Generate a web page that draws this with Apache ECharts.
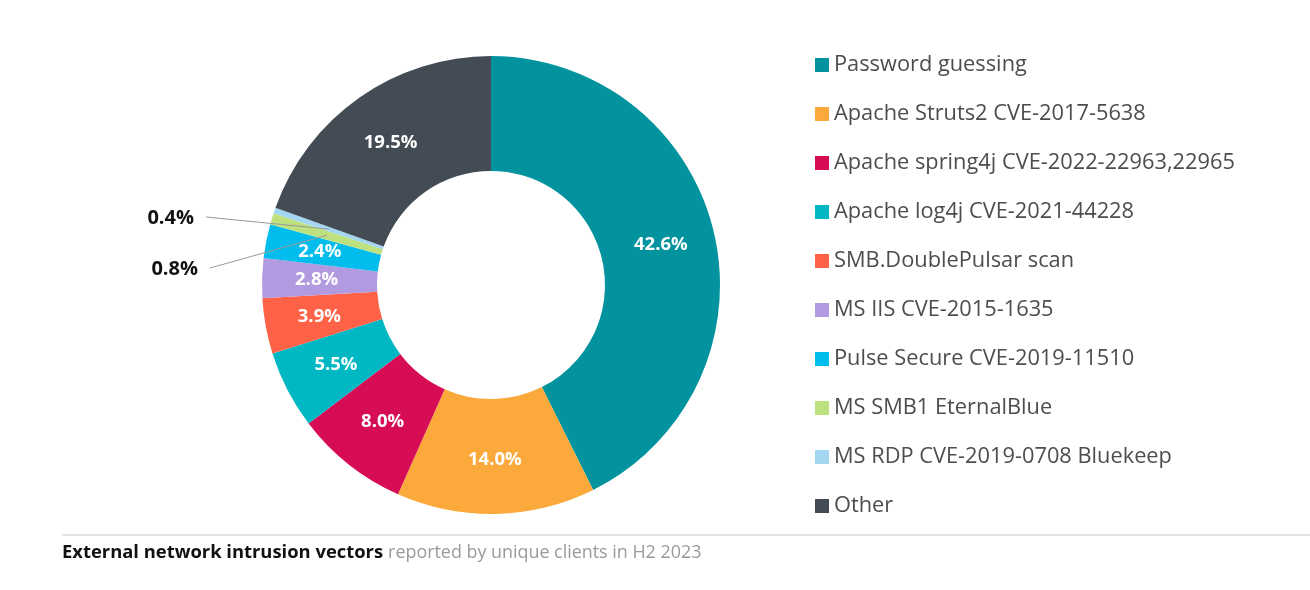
<!DOCTYPE html>
<html>
<head>
<meta charset="utf-8">
<script src="https://cdn.jsdelivr.net/npm/echarts@6/dist/echarts.min.js"></script>
<style>
	html, body { margin: 0; padding: 0; background: #fff; }
	#main { width: 1310px; height: 590px; }
</style>
</head>
<body>
<div id="main"></div>
<script>
var categories = ['Password guessing', 'Apache Struts2 CVE-2017-5638', 'Apache spring4j CVE-2022-22963,22965',
	'Apache log4j CVE-2021-44228', 'SMB.DoublePulsar scan', 'MS IIS CVE-2015-1635',
	'Pulse Secure CVE-2019-11510', 'MS SMB1 EternalBlue', 'MS RDP CVE-2019-0708 Bluekeep', 'Other'];
var shares = [42.6, 14.0, 8.0, 5.5, 3.9, 2.8, 2.4, 0.8, 0.4, 19.5];
var colors = ['#03939e', '#fca93b', '#d60c55', '#00b8c4', '#ff6246', '#b29ae0', '#00bdee', '#bde17e', '#a3d6f1', '#434c55'];

var FONT = '"Open Sans", sans-serif';
var cx = 491, cy = 285, rIn = 114, rOut = 229;

// 小扇区的外部标签位置
var outLabelPos = { 7: [198, 269], 8: [194, 218] };

function midPoint(i) {
	var total = 0, cum = 0;
	for (var k = 0; k < shares.length; k++) {
		total += shares[k];
		if (k < i) cum += shares[k];
	}
	var frac = (cum + shares[i] / 2) / total;
	var ang = (90 - 360 * frac) * Math.PI / 180;
	var r = (rIn + rOut) / 2;
	return [cx + r * Math.cos(ang), cy - r * Math.sin(ang)];
}

var pieData = [];
var topData = []; // 画在上层的外部标签（引导线要压在扇区上面）
for (var i = 0; i < categories.length; i++) {
	var small = shares[i] < 1;
	pieData.push({ name: categories[i], value: shares[i], label: { show: !small } });
	topData.push({
		name: categories[i],
		value: shares[i],
		label: { show: small },
		labelLine: { show: small }
	});
}

var option = {
	animation: false,
	color: colors,
	title: {
		left: 57,
		top: 539,
		text: '{b|External network intrusion vectors} {n|reported by unique clients in H2 2023}',
		textStyle: {
			rich: {
				b: { fontFamily: FONT, fontWeight: 'bold', fontSize: 18.4, color: '#111' },
				n: { fontFamily: FONT, fontWeight: 'normal', fontSize: 17.9, color: '#9a9a9a' }
			}
		}
	},
	legend: {
		orient: 'vertical',
		left: 810,
		top: 49,
		itemWidth: 14,
		itemHeight: 14,
		itemGap: 27,
		icon: 'rect',
		data: categories,
		textStyle: {
			fontFamily: FONT,
			fontSize: 21.8,
			lineHeight: 21,
			color: '#4d4d4d'
		}
	},
	graphic: [{
		type: 'line',
		shape: { x1: 62, y1: 535, x2: 1310, y2: 535 },
		style: { stroke: '#c8c8c8', lineWidth: 1 }
	}],
	series: [{
		type: 'pie',
		center: [cx, cy],
		radius: [rIn, rOut],
		startAngle: 90,
		clockwise: true,
		avoidLabelOverlap: false,
		label: {
			show: true,
			position: 'inside',
			fontFamily: FONT,
			fontWeight: 'bold',
			fontSize: 18.5,
			color: '#fff',
			formatter: function(p) {
				return p.value.toFixed(1) + '%';
			}
		},
		labelLine: { show: false },
		emphasis: { disabled: true },
		data: pieData
	}, {
		type: 'pie',
		z: 5,
		silent: true,
		legendHoverLink: false,
		center: [cx, cy],
		radius: [rIn, rOut],
		startAngle: 90,
		clockwise: true,
		avoidLabelOverlap: false,
		itemStyle: { color: 'rgba(0,0,0,0)' },
		label: {
			position: 'outside',
			fontFamily: FONT,
			fontWeight: 'bold',
			fontSize: 20,
			color: '#111',
			formatter: function(p) {
				return p.value.toFixed(1) + '%';
			}
		},
		labelLine: { lineStyle: { color: '#9a9a9a', width: 1 } },
		labelLayout: function(p) {
			var pos = outLabelPos[p.dataIndex];
			if (!pos) return {};
			var m = midPoint(p.dataIndex);
			return {
				x: pos[0],
				y: pos[1],
				align: 'right',
				verticalAlign: 'middle',
				labelLinePoints: [m, [pos[0] + 12, pos[1] - 1], [pos[0] + 12, pos[1] - 1]]
			};
		},
		emphasis: { disabled: true },
		data: topData
	}]
};

var myChart = echarts.init(document.getElementById('main'));
myChart.setOption(option, true);
</script>
</body>
</html>
